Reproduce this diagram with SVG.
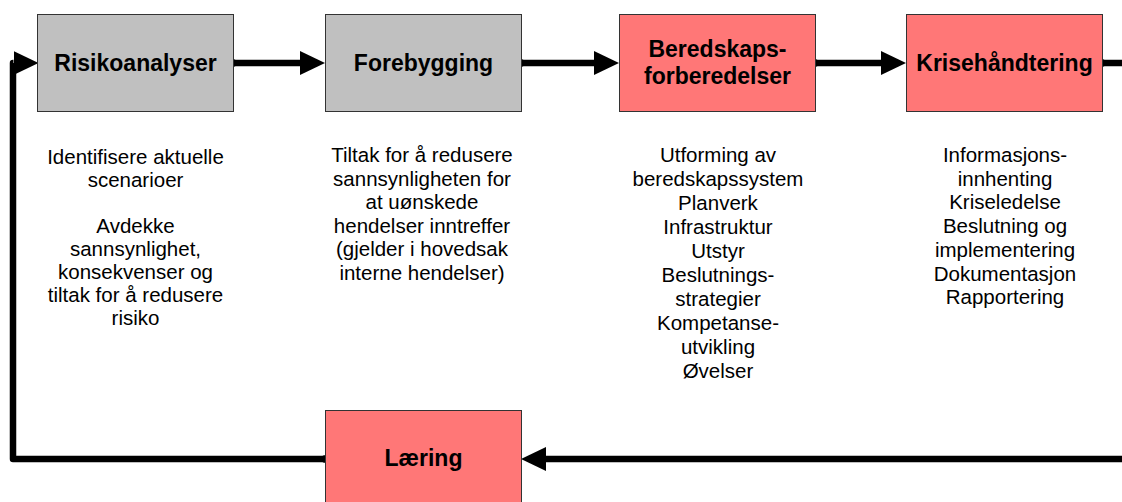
<svg xmlns="http://www.w3.org/2000/svg" width="1122" height="502" viewBox="0 0 1122 502">
<style>
.box{stroke:#333;stroke-width:1}
.gray{fill:#C0C0C0}
.red{fill:#FF7777}
.title{font-family:"Liberation Sans",Arial,sans-serif;font-size:23px;font-weight:bold;fill:#000;text-anchor:middle}
.body{font-family:"Liberation Sans",Arial,sans-serif;font-size:20.5px;fill:#000;text-anchor:middle}
.conn{fill:none;stroke:#000;stroke-width:6.5;stroke-linejoin:round;marker-start:url(#dot);marker-end:url(#ah)}
</style>
<defs>
<marker id="ah" markerUnits="userSpaceOnUse" viewBox="0 0 25 24" refX="0" refY="12" markerWidth="25" markerHeight="24" orient="auto">
<path d="M0,0 L25,12 L0,24 Z" fill="#000"/>
</marker>
<marker id="dot" markerUnits="userSpaceOnUse" viewBox="-4 -4 8 8" refX="0" refY="0" markerWidth="8" markerHeight="8" orient="auto">
<circle r="3.8" fill="#000"/>
</marker>
</defs>
<rect width="1122" height="502" fill="#fff"/>
<g id="connectors">
<path class="conn" d="M233,63 H300"/>
<path class="conn" d="M521,63 H594"/>
<path class="conn" d="M815,63 H881"/>
<path class="conn" d="M1102,63 H1126" style="marker-end:none"/>
<path class="conn" d="M1126,459 H546" style="marker-start:none"/>
<path class="conn" d="M325,459 H13 V63 H13.5"/>
</g>
<g id="risikoanalyser">
<rect class="box gray" x="37.5" y="14.5" width="196" height="97"/>
<text class="title" x="135.5" y="71">Risikoanalyser</text>
</g>
<g id="forebygging">
<rect class="box gray" x="325.5" y="14.5" width="196" height="97"/>
<text class="title" x="423.5" y="71">Forebygging</text>
</g>
<g id="beredskap">
<rect class="box red" x="619.5" y="14.5" width="196" height="97"/>
<text class="title" x="717.5" y="57">Beredskaps-</text>
<text class="title" x="717.5" y="84">forberedelser</text>
</g>
<g id="krisehandtering">
<rect class="box red" x="906.5" y="14.5" width="196" height="97"/>
<text class="title" x="1004.5" y="71">Krisehåndtering</text>
</g>
<g id="laering">
<rect class="box red" x="325.5" y="410.5" width="196" height="97"/>
<text class="title" x="423.5" y="466">Læring</text>
</g>
<g id="text-risiko">
<text class="body" x="135.5" y="164">Identifisere aktuelle</text>
<text class="body" x="135.5" y="187">scenarioer</text>
<text class="body" x="135.5" y="233">Avdekke</text>
<text class="body" x="135.5" y="256">sannsynlighet,</text>
<text class="body" x="135.5" y="279">konsekvenser og</text>
<text class="body" x="135.5" y="302">tiltak for å redusere</text>
<text class="body" x="135.5" y="325">risiko</text>
</g>
<g id="text-forebygging">
<text class="body" x="422" y="162">Tiltak for å redusere</text>
<text class="body" x="422" y="185.6">sannsynligheten for</text>
<text class="body" x="422" y="209.2">at uønskede</text>
<text class="body" x="422" y="232.8">hendelser inntreffer</text>
<text class="body" x="422" y="256.4">(gjelder i hovedsak</text>
<text class="body" x="422" y="280">interne hendelser)</text>
</g>
<g id="text-beredskap">
<text class="body" x="718" y="162">Utforming av</text>
<text class="body" x="718" y="186">beredskapssystem</text>
<text class="body" x="718" y="210">Planverk</text>
<text class="body" x="718" y="234">Infrastruktur</text>
<text class="body" x="718" y="258">Utstyr</text>
<text class="body" x="718" y="282">Beslutnings-</text>
<text class="body" x="718" y="306">strategier</text>
<text class="body" x="718" y="330">Kompetanse-</text>
<text class="body" x="718" y="354">utvikling</text>
<text class="body" x="718" y="378">Øvelser</text>
</g>
<g id="text-krise">
<text class="body" x="1005" y="162">Informasjons-</text>
<text class="body" x="1005" y="185.7">innhenting</text>
<text class="body" x="1005" y="209.4">Kriseledelse</text>
<text class="body" x="1005" y="233.1">Beslutning og</text>
<text class="body" x="1005" y="256.8">implementering</text>
<text class="body" x="1005" y="280.5">Dokumentasjon</text>
<text class="body" x="1005" y="304.2">Rapportering</text>
</g>
</svg>
